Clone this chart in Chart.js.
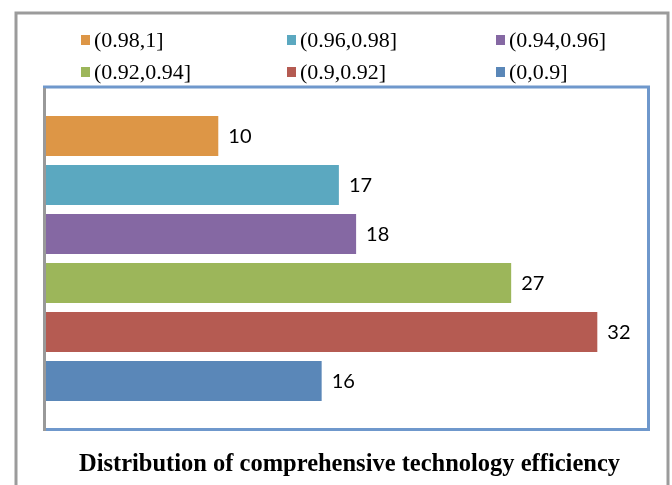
<!DOCTYPE html>
<html>
<head>
<meta charset="utf-8">
<script src="https://cdn.jsdelivr.net/npm/chart.js@4"></script>
<style>
  body { margin: 0; background: #fff; }
  canvas { display: block; }
</style>
</head>
<body>
<canvas id="chart" width="672" height="485"></canvas>
<script>
// series (one bar each), top to bottom
const seriesNames = ['(0.98,1]', '(0.96,0.98]', '(0.94,0.96]', '(0.92,0.94]', '(0.9,0.92]', '(0,0.9]'];
const seriesValues = [10, 17, 18, 27, 32, 16];
const seriesColors = ['#dd9646', '#5ba8c0', '#8568a3', '#9cb65a', '#b55b52', '#5a87b8'];
const categories = [''];
const chartTitle = 'Distribution of comprehensive technology efficiency';

// boxes, legend, value labels and title
const decorations = {
  id: 'decorations',
  beforeDraw(chart) {
    const ctx = chart.ctx;
    ctx.save();
    ctx.fillStyle = '#fff';
    ctx.fillRect(0, 0, chart.width, chart.height);
    // outer frame
    ctx.strokeStyle = '#9b9b9b';
    ctx.lineWidth = 3;
    ctx.strokeRect(16, 13, 652, 500);
    // plot frame
    ctx.strokeStyle = '#6f98cc';
    ctx.strokeRect(44.5, 87, 604, 342.5);
    // axis line
    ctx.strokeStyle = '#999';
    ctx.beginPath();
    ctx.moveTo(44.5, 88);
    ctx.lineTo(44.5, 431);
    ctx.stroke();

    // legend: 3 columns, 2 rows
    const colX = [81, 287, 496];
    const rowY = [40, 72];
    ctx.font = '22px "Liberation Serif", serif';
    ctx.textBaseline = 'middle';
    chart.data.datasets.forEach((ds, i) => {
      const x = colX[i % 3];
      const y = rowY[Math.floor(i / 3)];
      ctx.fillStyle = ds.backgroundColor;
      ctx.fillRect(x, y - 5, 9, 10);
      ctx.fillStyle = '#000';
      ctx.fillText(ds.label, x + 13, y + 1);
    });

    // title at the bottom
    ctx.font = 'bold 25px "Liberation Serif", serif';
    ctx.textBaseline = 'alphabetic';
    const w = ctx.measureText(chartTitle).width;
    const sx = 541 / w;
    ctx.translate(349.5, 471);
    ctx.scale(sx, 1);
    ctx.textAlign = 'center';
    ctx.fillStyle = '#000';
    ctx.fillText(chartTitle, 0, 0);
    ctx.restore();
  },
  afterDatasetsDraw(chart) {
    const ctx = chart.ctx;
    ctx.save();
    ctx.font = '20px Lato, sans-serif';
    ctx.fillStyle = '#000';
    ctx.textBaseline = 'middle';
    chart.data.datasets.forEach((ds, i) => {
      const bar = chart.getDatasetMeta(i).data[0];
      ctx.fillText(String(ds.data[0]), bar.x + 10, bar.y + 1);
    });
    ctx.restore();
  }
};

new Chart(document.getElementById('chart'), {
  type: 'bar',
  data: {
    labels: categories,
    datasets: seriesNames.map((name, i) => ({
      label: name,
      data: [seriesValues[i]],
      backgroundColor: seriesColors[i],
      borderWidth: 0,
      categoryPercentage: 0.862,
      barPercentage: 0.816
    }))
  },
  options: {
    indexAxis: 'y',
    responsive: false,
    animation: false,
    layout: { padding: { left: 46, right: 23, top: 88, bottom: 56 } },
    scales: {
      x: { display: false, min: 0, max: 35 },
      y: { display: false }
    },
    plugins: {
      legend: { display: false },
      tooltip: { enabled: false }
    }
  },
  plugins: [decorations]
});
</script>
</body>
</html>
